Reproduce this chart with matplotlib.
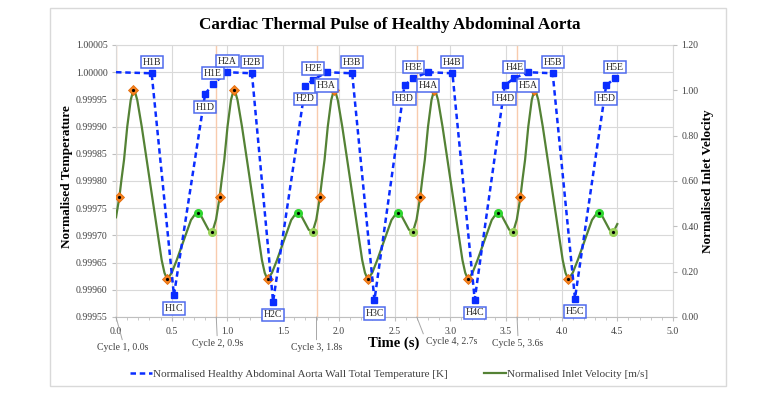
import matplotlib
matplotlib.use('Agg')
import matplotlib.pyplot as plt
from matplotlib.patches import Rectangle
from matplotlib.lines import Line2D
from matplotlib.ticker import FixedLocator, MultipleLocator, FormatStrFormatter

plt.rcParams['font.family'] = ['Liberation Serif', 'DejaVu Serif']

# ---------------- data ----------------
temp_time = [0.00, 0.32, 0.52, 0.80, 0.87, 1.00, 1.22, 1.41, 1.70, 1.77,
             1.89, 2.12, 2.32, 2.59, 2.67, 2.80, 3.02, 3.22, 3.49, 3.575,
             3.70, 3.92, 4.12, 4.40, 4.48]
temp_value = [1.000000, 0.999998, 0.999590, 0.999960, 0.999978,
              1.000000, 0.999998, 0.999578, 0.999975, 0.999986,
              1.000000, 0.999998, 0.999581, 0.999976, 0.999989,
              1.000000, 0.999998, 0.999582, 0.999976, 0.999989,
              1.000000, 0.999998, 0.999584, 0.999976, 0.999989]
temp_label = ['', 'H1B', 'H1C', 'H1D', 'H1E',
              'H2A', 'H2B', 'H2C', 'H2D', 'H2E',
              'H3A', 'H3B', 'H3C', 'H3D', 'H3E',
              'H4A', 'H4B', 'H4C', 'H4D', 'H4E',
              'H5A', 'H5B', 'H5C', 'H5D', 'H5E']

vel_time = [0.000, 0.030, 0.050, 0.072, 0.101, 0.132, 0.155, 0.175, 0.191, 0.231, 0.276, 0.320, 0.365,
            0.410, 0.435, 0.460, 0.500, 0.545, 0.619, 0.673, 0.705, 0.733, 0.765, 0.799, 0.830, 0.864, 0.898,
            0.930, 0.950, 0.972, 1.001, 1.032, 1.055, 1.075, 1.091, 1.131, 1.176, 1.220, 1.265,
            1.310, 1.335, 1.360, 1.400, 1.445, 1.519, 1.573, 1.605, 1.633, 1.665, 1.699, 1.730, 1.764, 1.798,
            1.830, 1.850, 1.872, 1.901, 1.932, 1.955, 1.975, 1.991, 2.031, 2.076, 2.120, 2.165,
            2.210, 2.235, 2.260, 2.300, 2.345, 2.419, 2.473, 2.505, 2.533, 2.565, 2.599, 2.630, 2.664, 2.698,
            2.730, 2.750, 2.772, 2.801, 2.832, 2.855, 2.875, 2.891, 2.931, 2.976, 3.020, 3.065,
            3.110, 3.135, 3.160, 3.200, 3.245, 3.319, 3.373, 3.405, 3.433, 3.465, 3.499, 3.530, 3.564, 3.598,
            3.630, 3.650, 3.672, 3.701, 3.732, 3.755, 3.775, 3.791, 3.831, 3.876, 3.920, 3.965,
            4.010, 4.035, 4.060, 4.100, 4.145, 4.219, 4.273, 4.305, 4.333, 4.365, 4.399, 4.430, 4.464, 4.500]
vel_value = [0.440, 0.528, 0.610, 0.693, 0.840, 0.957, 1.000, 0.985, 0.957, 0.840, 0.693, 0.546, 0.398,
             0.251, 0.195, 0.166, 0.195, 0.251, 0.354, 0.428, 0.450, 0.457, 0.445, 0.414, 0.385, 0.374, 0.430,
             0.528, 0.610, 0.693, 0.840, 0.957, 1.000, 0.985, 0.957, 0.840, 0.693, 0.546, 0.398,
             0.251, 0.195, 0.166, 0.195, 0.251, 0.354, 0.428, 0.450, 0.457, 0.445, 0.414, 0.385, 0.374, 0.430,
             0.528, 0.610, 0.693, 0.840, 0.957, 1.000, 0.985, 0.957, 0.840, 0.693, 0.546, 0.398,
             0.251, 0.195, 0.166, 0.195, 0.251, 0.354, 0.428, 0.450, 0.457, 0.445, 0.414, 0.385, 0.374, 0.430,
             0.528, 0.610, 0.693, 0.840, 0.957, 1.000, 0.985, 0.957, 0.840, 0.693, 0.546, 0.398,
             0.251, 0.195, 0.166, 0.195, 0.251, 0.354, 0.428, 0.450, 0.457, 0.445, 0.414, 0.385, 0.374, 0.430,
             0.528, 0.610, 0.693, 0.840, 0.957, 1.000, 0.985, 0.957, 0.840, 0.693, 0.546, 0.398,
             0.251, 0.195, 0.166, 0.195, 0.251, 0.354, 0.428, 0.450, 0.457, 0.445, 0.414, 0.385, 0.374, 0.410]

orange_time = [0.030, 0.155, 0.460, 0.930, 1.055, 1.360, 1.830, 1.955, 2.260,
               2.730, 2.855, 3.160, 3.630, 3.755, 4.060]
orange_value = [0.528, 1.000, 0.166, 0.528, 1.000, 0.166, 0.528, 1.000, 0.166,
                0.528, 1.000, 0.166, 0.528, 1.000, 0.166]
green_max_time = [0.733, 1.633, 2.533, 3.433, 4.333]
green_max_value = [0.457, 0.457, 0.457, 0.457, 0.457]
green_min_time = [0.864, 1.764, 2.664, 3.564, 4.464]
green_min_value = [0.374, 0.374, 0.374, 0.374, 0.374]

cycle_time = [0.0, 0.9, 1.8, 2.7, 3.6]
cycle_label = ['Cycle 1, 0.0s', 'Cycle 2, 0.9s', 'Cycle 3, 1.8s', 'Cycle 4, 2.7s', 'Cycle 5, 3.6s']

temp_ticks = [0.99955, 0.99960, 0.99965, 0.99970, 0.99975, 0.99980,
              0.99985, 0.99990, 0.99995, 1.00000, 1.00005]
vel_ticks = [0.0, 0.2, 0.4, 0.6, 0.8, 1.0, 1.2]

title = 'Cardiac Thermal Pulse of Healthy Abdominal Aorta'
temp_name = 'Normalised Healthy Abdominal Aorta Wall Total Temperature [K]'
vel_name = 'Normalised Inlet Velocity [m/s]'

# ---------------- layout / style ----------------
W, H = 760, 395
BLUE = '#0a2dff'
GREEN = '#548235'
TXT = '#404040'
DASH = (0, (2.2, 1.5))

fig = plt.figure(figsize=(W / 100, H / 100), dpi=100)
fig.patch.set_facecolor('white')
px_l, px_r, px_t, px_b = 116, 673, 45, 317
ax = fig.add_axes([px_l / W, 1 - px_b / H, (px_r - px_l) / W, (px_b - px_t) / H])
ax2 = ax.twinx()
ax3 = ax.twinx()
ax3.sharey(ax)

# chart border
fig.add_artist(Rectangle((50 / W, 1 - 386 / H), (726 - 50) / W, (386 - 8) / H,
                         transform=fig.transFigure, fill=False, ec='#d9d9d9', lw=1.0))

# base axis (temperature scale)
ax.set_xlim(0, 5)
ax.set_ylim(temp_ticks[0], temp_ticks[-1])
ax.yaxis.set_major_locator(FixedLocator(temp_ticks))
ax.yaxis.set_major_formatter(FormatStrFormatter('%.5f'))
ax.xaxis.set_major_locator(MultipleLocator(0.5))
ax.xaxis.set_minor_locator(MultipleLocator(0.1))
ax.xaxis.set_major_formatter(FormatStrFormatter('%.1f'))
ax.grid(True, which='major', color='#d9d9d9', lw=0.8)
ax.set_axisbelow(True)
for t in cycle_time:
    ax.axvline(t, color='#f8cbad', lw=1.0, zorder=1)
for name, s in ax.spines.items():
    s.set_color('#bfbfbf' if name == 'bottom' else '#d9d9d9')
    s.set_linewidth(0.8)
ax.tick_params(axis='both', which='both', direction='out', color='#bfbfbf',
               labelsize=7, labelcolor=TXT)
ax.tick_params(axis='x', which='major', length=3, pad=4)
ax.tick_params(axis='x', which='minor', length=2)
ax.tick_params(axis='y', which='major', length=3, pad=3)

ax.set_xlabel('Time (s)', fontsize=10.5, fontweight='bold', color='black')
ax.xaxis.set_label_coords((394 - px_l) / (px_r - px_l), (px_b - 343) / (px_b - px_t))
ax.xaxis.label.set_va('center')
ax.set_ylabel('Normalised Temperature', fontsize=9.5, fontweight='bold', color='black')
ax.yaxis.set_label_coords((67 - px_l) / (px_r - px_l), (px_b - 177) / (px_b - px_t))
ax.yaxis.label.set_va('center')

# velocity axis
ax2.set_ylim(vel_ticks[0], vel_ticks[-1])
ax2.yaxis.set_major_locator(FixedLocator(vel_ticks))
ax2.yaxis.set_major_formatter(FormatStrFormatter('%.2f'))
ax2.tick_params(axis='y', direction='out', length=3, pad=3, color='#bfbfbf',
                labelsize=7, labelcolor=TXT)
for s in ax2.spines.values():
    s.set_visible(False)
ax2.set_ylabel('Normalised Inlet Velocity', fontsize=9.5, fontweight='bold', color='black')
ax2.yaxis.set_label_coords((708 - px_l) / (px_r - px_l), (px_b - 181) / (px_b - px_t))
ax2.yaxis.label.set_va('center')

ax2.plot(vel_time, vel_value, color=GREEN, lw=1.6, solid_joinstyle='round', zorder=2)
ax2.plot(orange_time, orange_value, ls='none', marker='D', ms=5, mfc='#f58220',
         mec='#e46c0a', mew=0.6, zorder=3)
ax2.plot(green_max_time, green_max_value, ls='none', marker='o', ms=5.5, mfc='#2fd62f',
         mec='#2fd62f', zorder=3)
ax2.plot(green_min_time, green_min_value, ls='none', marker='o', ms=5.5, mfc='#9bd45a',
         mec='#9bd45a', zorder=3)
ax2.plot(orange_time + green_max_time + green_min_time,
         orange_value + green_max_value + green_min_value,
         ls='none', marker='o', ms=1.3, color='black', zorder=4)

# temperature overlay (shares temperature scale)
ax3.yaxis.set_visible(False)
for s in ax3.spines.values():
    s.set_visible(False)
ax3.plot(temp_time, temp_value, color=BLUE, lw=1.8, ls=DASH, dash_capstyle='butt', zorder=2)
mk_t = [t for t, l in zip(temp_time, temp_label) if l]
mk_v = [v for v, l in zip(temp_value, temp_label) if l]
ax3.plot(mk_t, mk_v, ls='none', marker='s', ms=5, color=BLUE, zorder=3)

above = {'H1B', 'H1E', 'H2A', 'H2B', 'H2E', 'H3B', 'H3E', 'H4B', 'H4E', 'H5B', 'H5E'}
for t, v, l in zip(temp_time, temp_value, temp_label):
    if not l:
        continue
    dy = 8 if l in above else -9.5
    ax3.annotate(l, (t, v), xytext=(0, dy), textcoords='offset points',
                 ha='center', va='center', fontsize=7, color='#262626', zorder=6,
                 bbox=dict(boxstyle='square,pad=0.18', fc='white', ec='#4f6bed', lw=1.1))

# cycle annotations
cyc_offsets = [(7, -30, (0.5, 1)), (1, -26, (0.5, 1)), (0, -30, (0.5, 1)),
               (35, -24, (0, 0.5)), (1, -26, (0.5, 1))]
for t, lbl, (dx, dy, rp) in zip(cycle_time, cycle_label, cyc_offsets):
    ax.annotate(lbl, xy=(t, 0), xycoords=('data', 'axes fraction'),
                xytext=(dx * 0.72, dy * 0.72), textcoords='offset points',
                ha='center', va='center', fontsize=7, color=TXT, annotation_clip=False,
                arrowprops=dict(arrowstyle='-', color='#a6a6a6', lw=0.7,
                                shrinkA=0, shrinkB=0, relpos=rp))

# title
fig.text(390 / W, 1 - 25 / H, title, ha='center', va='center', fontsize=12.3,
         fontweight='bold', color='black')

# legend
handles = [Line2D([], [], color=BLUE, lw=1.8, ls=DASH),
           Line2D([], [], color=GREEN, lw=1.6)]
leg = fig.legend(handles, [temp_name, vel_name], loc='center',
                 bbox_to_anchor=(389 / W, 1 - 374 / H), ncol=2, frameon=False,
                 fontsize=8, handlelength=2, handletextpad=0.1, columnspacing=3.2)
for txt in leg.get_texts():
    txt.set_color(TXT)

fig.savefig('out.png', dpi=100, facecolor='white')
